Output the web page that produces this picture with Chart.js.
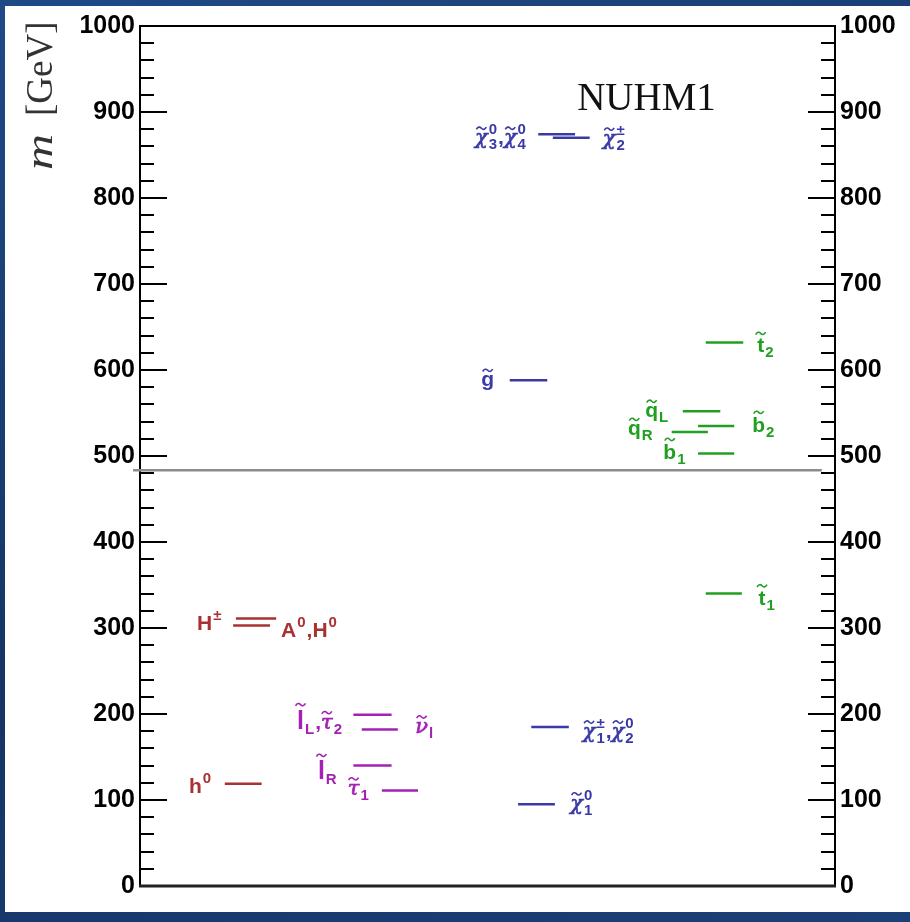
<!DOCTYPE html>
<html><head><meta charset="utf-8">
<script src="https://cdn.jsdelivr.net/npm/chart.js@4"></script>
<style>
html,body{margin:0;padding:0;width:910px;height:922px;overflow:hidden;background:linear-gradient(160deg,#1f4a86 0%,#163465 55%,#1b3f77 100%);}
#wrap{position:absolute;left:5px;top:6px;width:905px;height:906px;background:#fff;}
canvas{display:block;}
</style></head><body><div id="wrap"><canvas id="c" width="905" height="906"></canvas></div>
<script>
// ---- data (masses in GeV) ----
const particles = ['h0','H±','A0,H0','t1','lL,tau2','nu_l','lR','tau1','chi1±,chi2_0','chi1_0','gluino','chi3_0,chi4_0','chi2±','t2','qL','b2','qR','b1'];
const masses    = [119, 311, 303, 340, 199, 182, 140, 111, 185, 95, 588, 874, 870, 632, 552, 535, 528, 503];
const groups    = ['higgs','higgs','higgs','squark','slepton','slepton','slepton','slepton','gaugino','gaugino','gaugino','gaugino','gaugino','squark','squark','squark','squark','squark'];
// column extent of each level on the (hidden) horizontal axis, 0..100
const colStart  = [12.2, 13.8, 13.4, 81.4, 30.7, 31.9, 30.7, 34.8, 56.3, 54.4, 53.2, 57.3, 59.4, 81.4, 78.1, 80.3, 76.5, 80.3];
const colEnd    = [17.5, 19.6, 18.7, 86.6, 36.2, 37.1, 36.2, 40.0, 61.7, 59.7, 58.6, 62.6, 64.7, 86.8, 83.5, 85.5, 81.7, 85.5];
// particle labels (~ = tilde on next glyph, _ subscript, ^ superscript)
const labelText = ['h^0','H^±','A^0,H^0','~t_1','~l_L,~τ_2','~ν_l','~l_R','~τ_1','~χ_1^±,~χ_2^0','~χ_1^0','~g','~χ_3^0,~χ_4^0','~χ_2^±','~t_2','~q_L','~b_2','~q_R','~b_1'];
const labelX    = [7.05, 8.2, 20.3, 89.0, 22.6, 39.6, 25.6, 29.9, 63.7, 61.9, 49.1, 48.2, 66.6, 88.8, 72.7, 88.1, 70.2, 75.3];
const labelY    = [108, 298, 289, 327, 183, 178, 124, 106, 172, 88.5, 581, 862.5, 861.5, 620.5, 545, 527.5, 524, 496];
const breakLevel = 483.5;          // grey separator
const yTicks = {min:0, max:1000, major:100, minor:20};
const titleText = 'NUHM1';

const groupColor = {higgs:'#a83232', slepton:'#a322b3', gaugino:'#3a3aa6', squark:'#20a020'};

const datasets = particles.map((p,i)=>({
  label:p,
  data:[{x:colStart[i],y:masses[i]},{x:colEnd[i],y:masses[i]}],
  showLine:true, borderColor:groupColor[groups[i]], borderWidth:2.5,
  pointRadius:0, yAxisID:'y'
}));
datasets.push({label:'break', data:[{x:-1,y:breakLevel},{x:98.1,y:breakLevel}],
  showLine:true, borderColor:'#8c8c8c', borderWidth:2.5, pointRadius:0, clip:false, yAxisID:'y'});

function drawTilde(ctx,cx,cy){
  ctx.beginPath();
  ctx.moveTo(cx-5,cy+1.2);
  ctx.quadraticCurveTo(cx-2.5,cy-2.8,cx,cy);
  ctx.quadraticCurveTo(cx+2.5,cy+2.8,cx+5,cy-1.2);
  ctx.lineWidth=1.6; ctx.stroke();
}
function parseLabel(s){
  const out=[]; let tilde=false;
  const chars=[...s];
  for(let i=0;i<chars.length;i++){
    const c=chars[i];
    if(c==='~'){tilde=true;continue;}
    if(c==='_'){out[out.length-1].sub=chars[++i];continue;}
    if(c==='^'){out[out.length-1].sup=chars[++i];continue;}
    out.push({ch:c,tilde}); tilde=false;
  }
  return out;
}
const FAM='"Liberation Sans", Arial, sans-serif';
const GREEK='χτν';
function glyphFont(ch){
  if(GREEK.includes(ch)) return 'italic 21px "DejaVu Serif", serif';
  if(ch==='l') return 'bold 25px '+FAM;
  return 'bold 21px '+FAM;
}
function drawLabel(ctx,str,x,y,color){
  ctx.save(); ctx.fillStyle=color; ctx.strokeStyle=color; ctx.textBaseline='alphabetic'; ctx.textAlign='left';
  let cx=x;
  for(const g of parseLabel(str)){
    ctx.font = glyphFont(g.ch);
    const m=ctx.measureText(g.ch);
    ctx.fillText(g.ch,cx,y);
    if(GREEK.includes(g.ch)){ ctx.lineWidth=0.7; ctx.strokeText(g.ch,cx,y); }
    if(g.tilde){ drawTilde(ctx,cx+m.width/2,y-m.actualBoundingBoxAscent-5); }
    let w=m.width, extra=0;
    ctx.font='bold 15px '+FAM;
    if(g.sup){ ctx.fillText(g.sup,cx+w+1,y-10); extra=Math.max(extra,ctx.measureText(g.sup).width); }
    if(g.sub){ ctx.fillText(g.sub,cx+w+1,y+5); extra=Math.max(extra,ctx.measureText(g.sub).width); }
    cx += w + (extra?extra+2:0);
  }
  ctx.restore();
}

const decor = {
  id:'decor',
  beforeDatasetsDraw(chart){
    const ctx=chart.ctx, a=chart.chartArea, ys=chart.scales.y;
    ctx.save(); ctx.strokeStyle='#000'; ctx.lineWidth=2;
    for(let v=yTicks.min; v<=yTicks.max; v+=yTicks.minor){
      const py=Math.round(ys.getPixelForValue(v));
      const len=(v%yTicks.major===0)?27:14;
      ctx.beginPath(); ctx.moveTo(a.left,py); ctx.lineTo(a.left+len,py);
      ctx.moveTo(a.right,py); ctx.lineTo(a.right-len,py); ctx.stroke();
    }
    ctx.beginPath(); ctx.moveTo(a.left,a.top); ctx.lineTo(a.right,a.top); ctx.stroke();
    ctx.lineWidth=3; ctx.strokeStyle='#222';
    ctx.beginPath(); ctx.moveTo(a.left-1,a.bottom); ctx.lineTo(a.right+1,a.bottom); ctx.stroke();
    ctx.restore();
  },
  afterDatasetsDraw(chart){
    const ctx=chart.ctx, xs=chart.scales.x, ys=chart.scales.y;
    labelText.forEach((t,i)=>{
      drawLabel(ctx,t,xs.getPixelForValue(labelX[i]),ys.getPixelForValue(labelY[i]),groupColor[groups[i]]);
    });
    ctx.save();
    ctx.fillStyle='#111'; ctx.font='39px "Liberation Serif", "Times New Roman", serif';
    ctx.textAlign='left'; ctx.textBaseline='alphabetic';
    ctx.fillText(titleText, xs.getPixelForValue(62.9), ys.getPixelForValue(902));
    // y-axis title
    ctx.fillStyle='#333';
    ctx.translate(47,164); ctx.rotate(-Math.PI/2);
    ctx.save(); ctx.scale(1.35,1);
    ctx.font='italic 37px "Liberation Serif", serif'; ctx.fillText('m',0,0);
    ctx.restore();
    ctx.font='37px "Liberation Serif", serif'; ctx.fillText('[GeV]',54,0);
    ctx.restore();
  }
};

const tickFont={family:'"Liberation Sans", Arial, sans-serif', size:25, weight:'bold'};
const tickFmt = v => String(v);
new Chart(document.getElementById('c'),{
  type:'scatter',
  data:{datasets},
  options:{
    responsive:false, animation:false, devicePixelRatio:1,
    layout:{padding:{top:19,bottom:26,left:0,right:0}},
    plugins:{legend:{display:false},tooltip:{enabled:false}},
    scales:{
      x:{type:'linear',min:0,max:100,display:false},
      y:{type:'linear',position:'left',min:yTicks.min,max:yTicks.max,
         ticks:{stepSize:yTicks.major,font:tickFont,color:'#000',padding:5,callback:tickFmt},
         grid:{drawOnChartArea:false,drawTicks:false},
         border:{display:true,color:'#000',width:2},
         afterFit(s){s.width=135;}},
      y2:{type:'linear',position:'right',min:yTicks.min,max:yTicks.max,
         ticks:{stepSize:yTicks.major,font:tickFont,color:'#000',padding:5,callback:tickFmt},
         grid:{drawOnChartArea:false,drawTicks:false},
         border:{display:true,color:'#000',width:2},
         afterFit(s){s.width=75;}}
    }
  },
  plugins:[decor]
});
</script>
</body></html>
